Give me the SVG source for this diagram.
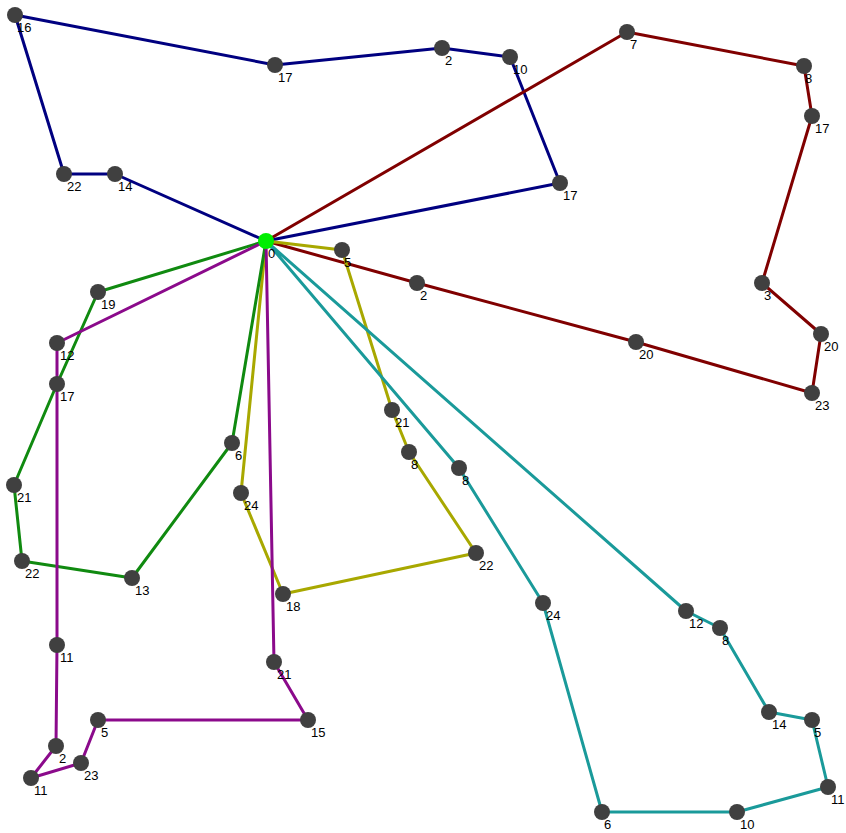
<svg xmlns="http://www.w3.org/2000/svg" width="846" height="833" viewBox="0 0 846 833">
<style>
.r{fill:none;stroke-width:3;stroke-linejoin:round}
.blue{stroke:#000080}.red{stroke:#800000}.olive{stroke:#a8a800}.green{stroke:#108a10}.purple{stroke:#8b0a8b}.cyan{stroke:#1a9a9a}
.n{fill:#404040}
.d{fill:#00ee00}
text{font-family:"Liberation Sans",Arial,sans-serif;font-size:13px;fill:#000}
</style>
<rect width="846" height="833" fill="#fff"/>
<g id="connectors">
<polyline class="r blue" points="266,241 560,183 510,57 442,48 275,65 15,15 64,174 115,174 266,241"/>
<polyline class="r red" points="266,241 627,32 804,66 812,116 762,283 821,334 812,393 636,342 417,283 266,241"/>
<polyline class="r olive" points="266,241 342,250 392,410 409,452 476,553 283,594 241,493 266,241"/>
<polyline class="r green" points="266,241 98,292 57,384 14,485 22,561 132,578 232,443 266,241"/>
<polyline class="r purple" points="266,241 57,343 57,645 56,746 31,778 81,763 98,720 308,720 274,662 266,241"/>
<polyline class="r cyan" points="266,241 459,468 543,603 602,812 737,812 828,787 812,720 769,712 720,628 686,611 266,241"/>
</g>
<g id="depot-0"><circle class="d" cx="266" cy="241" r="8"/><text x="268" y="258">0</text></g>
<g id="blue-17a"><circle class="n" cx="560" cy="183" r="8"/><text x="563" y="200">17</text></g>
<g id="blue-10"><circle class="n" cx="510" cy="57" r="8"/><text x="513" y="74">10</text></g>
<g id="blue-2"><circle class="n" cx="442" cy="48" r="8"/><text x="445" y="65">2</text></g>
<g id="blue-17b"><circle class="n" cx="275" cy="65" r="8"/><text x="278" y="82">17</text></g>
<g id="blue-16"><circle class="n" cx="15" cy="15" r="8"/><text x="17" y="32">16</text></g>
<g id="blue-22"><circle class="n" cx="64" cy="174" r="8"/><text x="67" y="191">22</text></g>
<g id="blue-14"><circle class="n" cx="115" cy="174" r="8"/><text x="118" y="191">14</text></g>
<g id="red-7"><circle class="n" cx="627" cy="32" r="8"/><text x="630" y="49">7</text></g>
<g id="red-8"><circle class="n" cx="804" cy="66" r="8"/><text x="805" y="83">8</text></g>
<g id="red-17"><circle class="n" cx="812" cy="116" r="8"/><text x="815" y="133">17</text></g>
<g id="red-3"><circle class="n" cx="762" cy="283" r="8"/><text x="764" y="300">3</text></g>
<g id="red-20a"><circle class="n" cx="821" cy="334" r="8"/><text x="824" y="351">20</text></g>
<g id="red-23"><circle class="n" cx="812" cy="393" r="8"/><text x="815" y="410">23</text></g>
<g id="red-20b"><circle class="n" cx="636" cy="342" r="8"/><text x="639" y="359">20</text></g>
<g id="red-2"><circle class="n" cx="417" cy="283" r="8"/><text x="420" y="300">2</text></g>
<g id="olive-5"><circle class="n" cx="342" cy="250" r="8"/><text x="344" y="267">5</text></g>
<g id="olive-21"><circle class="n" cx="392" cy="410" r="8"/><text x="395" y="427">21</text></g>
<g id="olive-8"><circle class="n" cx="409" cy="452" r="8"/><text x="411" y="469">8</text></g>
<g id="olive-22"><circle class="n" cx="476" cy="553" r="8"/><text x="479" y="570">22</text></g>
<g id="olive-18"><circle class="n" cx="283" cy="594" r="8"/><text x="286" y="611">18</text></g>
<g id="olive-24"><circle class="n" cx="241" cy="493" r="8"/><text x="244" y="510">24</text></g>
<g id="green-19"><circle class="n" cx="98" cy="292" r="8"/><text x="101" y="309">19</text></g>
<g id="green-17"><circle class="n" cx="57" cy="384" r="8"/><text x="60" y="401">17</text></g>
<g id="green-21"><circle class="n" cx="14" cy="485" r="8"/><text x="17" y="502">21</text></g>
<g id="green-22"><circle class="n" cx="22" cy="561" r="8"/><text x="25" y="578">22</text></g>
<g id="green-13"><circle class="n" cx="132" cy="578" r="8"/><text x="135" y="595">13</text></g>
<g id="green-6"><circle class="n" cx="232" cy="443" r="8"/><text x="235" y="460">6</text></g>
<g id="purple-12"><circle class="n" cx="57" cy="343" r="8"/><text x="60" y="360">12</text></g>
<g id="purple-11a"><circle class="n" cx="57" cy="645" r="8"/><text x="60" y="662">11</text></g>
<g id="purple-2"><circle class="n" cx="56" cy="746" r="8"/><text x="59" y="763">2</text></g>
<g id="purple-11b"><circle class="n" cx="31" cy="778" r="8"/><text x="34" y="795">11</text></g>
<g id="purple-23"><circle class="n" cx="81" cy="763" r="8"/><text x="84" y="780">23</text></g>
<g id="purple-5"><circle class="n" cx="98" cy="720" r="8"/><text x="101" y="737">5</text></g>
<g id="purple-15"><circle class="n" cx="308" cy="720" r="8"/><text x="311" y="737">15</text></g>
<g id="purple-21"><circle class="n" cx="274" cy="662" r="8"/><text x="277" y="679">21</text></g>
<g id="cyan-8"><circle class="n" cx="459" cy="468" r="8"/><text x="462" y="485">8</text></g>
<g id="cyan-24"><circle class="n" cx="543" cy="603" r="8"/><text x="546" y="620">24</text></g>
<g id="cyan-6"><circle class="n" cx="602" cy="812" r="8"/><text x="604" y="829">6</text></g>
<g id="cyan-10"><circle class="n" cx="737" cy="812" r="8"/><text x="740" y="829">10</text></g>
<g id="cyan-11"><circle class="n" cx="828" cy="787" r="8"/><text x="831" y="804">11</text></g>
<g id="cyan-5"><circle class="n" cx="812" cy="720" r="8"/><text x="814" y="737">5</text></g>
<g id="cyan-14"><circle class="n" cx="769" cy="712" r="8"/><text x="772" y="729">14</text></g>
<g id="cyan-8b"><circle class="n" cx="720" cy="628" r="8"/><text x="722" y="645">8</text></g>
<g id="cyan-12"><circle class="n" cx="686" cy="611" r="8"/><text x="689" y="628">12</text></g>
</svg>
